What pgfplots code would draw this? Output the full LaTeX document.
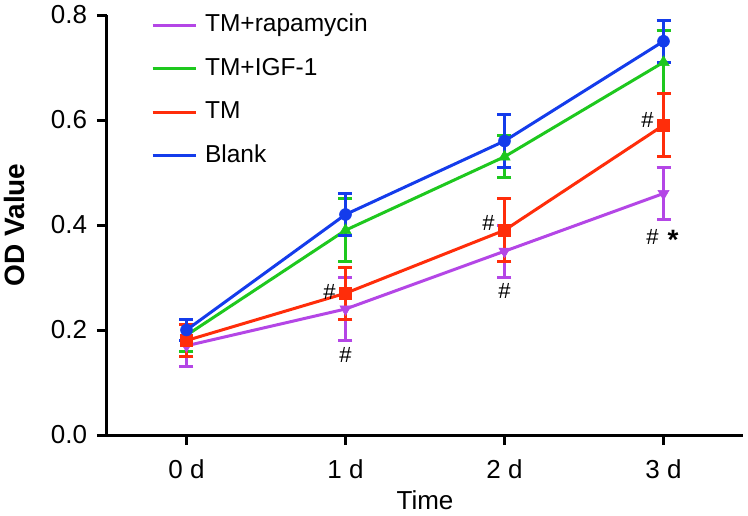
\documentclass[border=0pt]{standalone}
\usepackage{fontspec}
\setmainfont{Liberation Sans}
\usepackage{pgfplots}
\pgfplotsset{compat=1.18}
\definecolor{cpur}{RGB}{180,70,230}
\definecolor{cgrn}{RGB}{30,200,30}
\definecolor{cred}{RGB}{255,45,10}
\definecolor{cblu}{RGB}{20,60,235}
\pgfplotsset{
  errstyle/.style={
    error bars/.cd, y dir=both, y explicit,
    error bar style={line width=3pt},
    error mark options={rotate=90, mark size=7pt, line width=3pt}
  }
}
\begin{document}
\fontsize{23}{27}\selectfont
\begin{tikzpicture}
\useasboundingbox (-107pt,-80pt) rectangle (641pt,435pt);
\begin{axis}[
  scale only axis, width=636pt, height=420pt,
  xmin=-0.5, xmax=3.5, ymin=0, ymax=0.8,
  axis x line=bottom, axis y line=left,
  axis line style={line width=3pt, -},
  xtick={0,1,2,3}, xticklabels={0 d,1 d,2 d,3 d},
  ytick={0,0.2,0.4,0.6,0.8},
  /pgf/number format/assume math mode=true,
  tick align=outside, major tick length=10pt,
  tick style={line width=3pt, black},
  tick label style={font=\fontsize{26}{30}\selectfont},
  xticklabel style={yshift=-7pt},
  yticklabel style={xshift=-2pt, /pgf/number format/.cd, fixed, fixed zerofill, precision=1},
  xlabel={Time}, ylabel={\bfseries OD Value},
  xlabel style={at={(axis description cs:0.5,-0.155)}, anchor=center, font=\fontsize{26}{30}\selectfont},
  ylabel style={at={(axis description cs:-0.1447,0.5)}, anchor=center, font=\fontsize{28}{32}\selectfont},
  clip=false,
  legend style={at={(axis description cs:0.069,1.008)}, anchor=north west, draw=none, fill=none,
    inner sep=0pt, row sep=16.5pt, column sep=6pt,
    font=\fontsize{24.5}{28}\selectfont,
    nodes={text height=18pt, text depth=5pt, inner sep=2pt}},
  legend cell align=left,
  legend image code/.code={\draw[mark repeat=2,mark phase=2,#1] (0pt,0pt) -- (21.5pt,0pt) -- (43pt,0pt);},
]
\addplot[color=cpur, line width=3pt, mark=triangle*, mark size=6.5pt, mark options={solid, fill=cpur, rotate=180, line width=0.5pt}, errstyle]
  table[x=x, y=y, y error=e] {
x y e
0 0.17 0.04
1 0.24 0.06
2 0.35 0.05
3 0.46 0.05
};
\addlegendentry{TM+rapamycin}
\addplot[color=cgrn, line width=3pt, mark=triangle*, mark size=6.5pt, mark options={solid, fill=cgrn, line width=0.5pt}, errstyle]
  table[x=x, y=y, y error=e] {
x y e
0 0.19 0.03
1 0.39 0.06
2 0.53 0.04
3 0.71 0.06
};
\addlegendentry{TM+IGF-1}
\addplot[color=cred, line width=3pt, mark=square*, mark size=6pt, mark options={solid, fill=cred, line width=0.5pt}, errstyle]
  table[x=x, y=y, y error=e] {
x y e
0 0.18 0.03
1 0.27 0.05
2 0.39 0.06
3 0.59 0.06
};
\addlegendentry{TM}
\addplot[color=cblu, line width=3pt, mark=*, mark size=6pt, mark options={solid, fill=cblu, line width=0.5pt}, errstyle]
  table[x=x, y=y, y error=e] {
x y e
0 0.20 0.02
1 0.42 0.04
2 0.56 0.05
3 0.75 0.04
};
\addlegendentry{Blank}
\node[font=\fontsize{22}{26}\selectfont] at (axis cs:0.9,0.272) {\#};
\node[font=\fontsize{22}{26}\selectfont] at (axis cs:1,0.153) {\#};
\node[font=\fontsize{22}{26}\selectfont] at (axis cs:1.9,0.404) {\#};
\node[font=\fontsize{22}{26}\selectfont] at (axis cs:2,0.275) {\#};
\node[font=\fontsize{22}{26}\selectfont] at (axis cs:2.9,0.60) {\#};
\node[font=\fontsize{22}{26}\selectfont] at (axis cs:2.93,0.378) {\#};
\node[font=\fontsize{28}{32}\selectfont\bfseries] at (axis cs:3.06,0.372) {*};
\end{axis}
\end{tikzpicture}
\end{document}
